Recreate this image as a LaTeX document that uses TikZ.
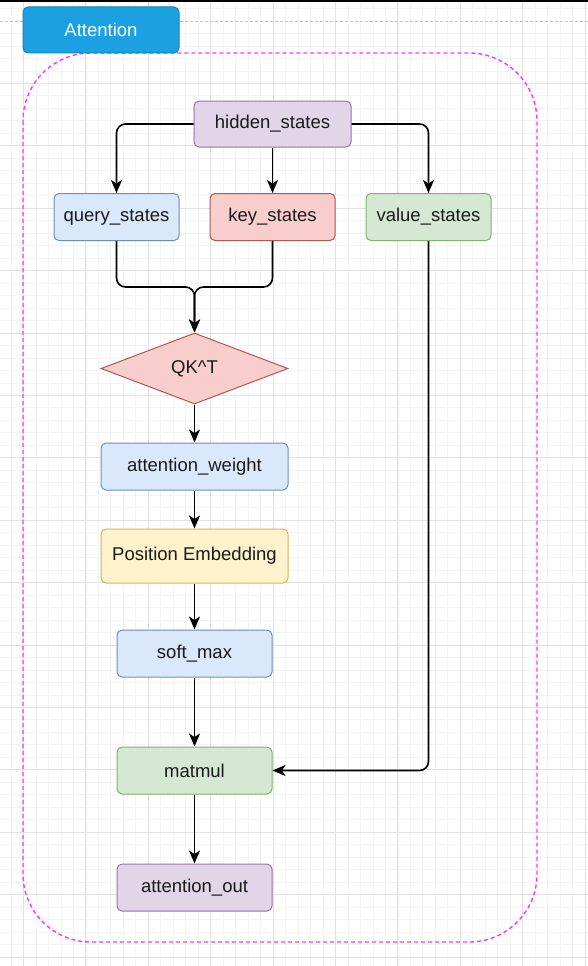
\documentclass[tikz,border=0pt]{standalone}
\usepackage{fontspec}
\setmainfont{Liberation Sans}
\usepackage{xcolor}
\usetikzlibrary{arrows.meta,positioning,shapes.geometric}
\definecolor{gridMinor}{HTML}{F4F4F4}
\definecolor{gridMajor}{HTML}{E2E2E2}
\definecolor{tabBlue}{HTML}{1BA1E2}
\definecolor{tabEdge}{HTML}{1384C2}
\definecolor{frameMagenta}{HTML}{FF33FF}
\definecolor{purpleFill}{HTML}{E1D5E7}
\definecolor{purpleEdge}{HTML}{9673A6}
\definecolor{blueFill}{HTML}{DAE8FC}
\definecolor{blueEdge}{HTML}{6C8EBF}
\definecolor{redFill}{HTML}{F8CECC}
\definecolor{redEdge}{HTML}{B85450}
\definecolor{greenFill}{HTML}{D5E8D4}
\definecolor{greenEdge}{HTML}{82B366}
\definecolor{yellowFill}{HTML}{FFF2CC}
\definecolor{yellowEdge}{HTML}{D6B656}
\definecolor{inkText}{HTML}{1A1A1A}
\tikzset{
	box/.style={draw,rounded corners=5pt,line width=1pt,inner sep=0pt,text=inkText,font=\fontsize{18.5}{21}\selectfont},
	purplebox/.style={box,fill=purpleFill,draw=purpleEdge},
	bluebox/.style={box,fill=blueFill,draw=blueEdge},
	redbox/.style={box,fill=redFill,draw=redEdge},
	greenbox/.style={box,fill=greenFill,draw=greenEdge},
	yellowbox/.style={box,fill=yellowFill,draw=yellowEdge},
	flow/.style={-{Stealth[length=13pt,width=11pt,inset=3.5pt]},line width=1.6pt,rounded corners=9pt}
}

\begin{document}
\begin{tikzpicture}[x=1pt,y=-1pt]
		\useasboundingbox (0,0) rectangle (588,966);
		\fill[white] (0,0) rectangle (588,966);
		% grid
		\foreach \i in {-1,...,45} \draw[gridMinor,line width=0.8pt] (23.5+12.48*\i,0) -- ++(0,966);
		\foreach \j in {-1,...,76} \draw[gridMinor,line width=0.8pt] (0,21+12.48*\j) -- ++(588,0);
		\foreach \i in {0,...,9} \draw[gridMajor,line width=1pt] (23.5+62.4*\i,0) -- ++(0,966);
		\foreach \j in {1,...,15} \draw[gridMajor,line width=1pt] (0,21+62.4*\j) -- ++(588,0);
		\draw[gray!45,line width=1pt,dash pattern=on 3pt off 2pt] (0,21.5) -- (588,21.5);
		\fill[black] (0,0) rectangle (588,2.5);
		% container
		\draw[frameMagenta,line width=1.4pt,dash pattern=on 4pt off 3pt,rounded corners=68pt] (23,53) rectangle (537,942);
		\node[box,fill=tabBlue,draw=tabEdge,text=white,minimum width=156pt,minimum height=46pt] (tab) at (101,30) {Attention};
		% nodes
		\node[purplebox,minimum width=157pt,minimum height=46pt] (hidden) at (272.5,124) {hidden\_states};
		\node[bluebox,minimum width=125pt,minimum height=47pt] (query) at (116.5,217) {query\_states};
		\node[redbox,minimum width=125pt,minimum height=47pt] (key) at (272.5,217) {key\_states};
		\node[greenbox,minimum width=125pt,minimum height=47pt] (value) at (428.5,217) {value\_states};
		\node[diamond,draw=redEdge,fill=redFill,line width=1pt,inner sep=0pt,minimum width=187pt,minimum height=71pt,text=inkText,font=\fontsize{18.5}{21}\selectfont] (qkt) at (194.5,368.5) {QK\^{}T};
		\node[bluebox,minimum width=187pt,minimum height=47pt] (weight) at (194.5,466.5) {attention\_weight};
		\node[yellowbox,minimum width=187pt,minimum height=54pt] (posemb) at (194.5,556) {Position Embedding};
		\node[bluebox,minimum width=155pt,minimum height=47pt] (softmax) at (194.5,653.5) {soft\_max};
		\node[greenbox,minimum width=155pt,minimum height=47pt] (matmul) at (194.5,770.5) {matmul};
		\node[purplebox,minimum width=155pt,minimum height=47pt] (attnout) at (194.5,887.5) {attention\_out};
		% connectors
		\draw[flow] (hidden.west) -| (query.north);
		\draw[flow] (hidden.east) -| (value.north);
		\draw[flow] (hidden.south) -- (key.north);
		\coordinate (merge) at (194.5,287);
		\draw[flow] (query.south) |- (merge) -- (qkt.north);
		\draw[flow] (key.south) |- (merge) -- (qkt.north);
		\draw[flow] (qkt.south) -- (weight.north);
		\draw[flow] (weight.south) -- (posemb.north);
		\draw[flow] (posemb.south) -- (softmax.north);
		\draw[flow] (softmax.south) -- (matmul.north);
		\draw[flow] (matmul.south) -- (attnout.north);
		\draw[flow] (value.south) |- (matmul.east);
	\end{tikzpicture}
\end{document}
